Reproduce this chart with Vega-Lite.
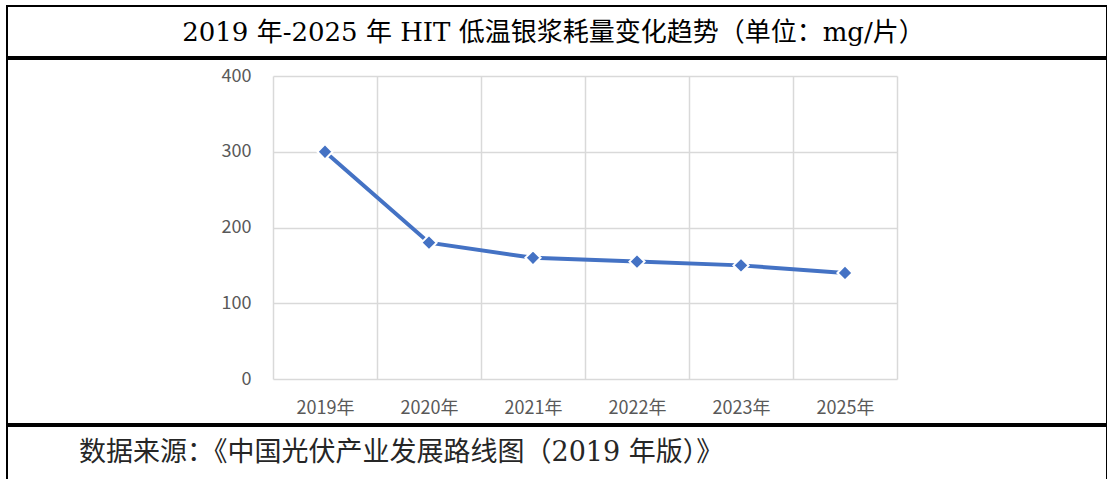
{
  "$schema": "https://vega.github.io/schema/vega-lite/v6.json",
  "padding": {"left": 6, "top": 5, "right": 0, "bottom": 0},
  "background": "white",
  "spacing": 0,
  "config": {
    "view": {"stroke": "black", "strokeWidth": 2, "fill": "white"},
    "concat": {"spacing": 0}
  },
  "vconcat": [
    {
      "width": 1100,
      "height": 51,
      "view": {"style": "cell", "stroke": "black", "strokeWidth": 2, "fill": "white"},
      "data": {"values": [{"t": "2019 年-2025 年 HIT 低温银浆耗量变化趋势（单位：mg/片）"}]},
      "mark": {"type": "text", "font": "DejaVu Serif, Noto Sans CJK SC", "fontSize": 26, "color": "black", "align": "center", "baseline": "middle", "dx": -3.5, "dy": 1},
      "encoding": {"text": {"field": "t"}}
    },
    {
      "width": 1100,
      "height": 365,
      "data": {"values": [
        {"year": "2019年", "value": 300},
        {"year": "2020年", "value": 180},
        {"year": "2021年", "value": 160},
        {"year": "2022年", "value": 155},
        {"year": "2023年", "value": 150},
        {"year": "2025年", "value": 140}
      ]},
      "encoding": {
        "x": {"field": "year", "type": "nominal", "sort": null,
          "scale": {"type": "band", "range": [266, 890], "paddingInner": 0, "paddingOuter": 0},
          "axis": {"title": null, "orient": "top", "offset": -320, "grid": true, "tickBand": "extent", "gridColor": "#d9d9d9", "gridWidth": 1.5, "domain": false, "ticks": false, "labelAngle": 0, "labelPadding": -29, "labelBaseline": "middle", "labelFont": "Noto Sans CJK SC", "labelFontSize": 18, "labelColor": "#595959"}},
        "y": {"field": "value", "type": "quantitative",
          "scale": {"domain": [0, 400], "range": [320, 17], "nice": false},
          "axis": {"title": null, "orient": "left", "offset": -266, "values": [0, 100, 200, 300, 400], "grid": true, "gridColor": "#d9d9d9", "gridWidth": 1.5, "domain": false, "ticks": false, "labelPadding": 22, "labelFont": "Noto Sans CJK SC", "labelFontSize": 18, "labelColor": "#595959"}}
      },
      "layer": [
        {"mark": {"type": "line", "color": "#4472C4", "strokeWidth": 4}},
        {"mark": {"type": "point", "shape": "diamond", "filled": true, "size": 230, "color": "#4472C4", "stroke": "white", "strokeWidth": 2, "opacity": 1}}
      ]
    },
    {
      "width": 1100,
      "height": 60,
      "view": {"style": "cell", "stroke": "black", "strokeWidth": 2, "fill": "white"},
      "data": {"values": [{"t": "数据来源：《中国光伏产业发展路线图（2019 年版）》"}]},
      "mark": {"type": "text", "font": "DejaVu Serif, Noto Sans CJK SC", "fontSize": 27, "color": "#262626", "align": "left", "baseline": "middle", "dx": -478, "dy": -3},
      "encoding": {"text": {"field": "t"}}
    }
  ]
}
